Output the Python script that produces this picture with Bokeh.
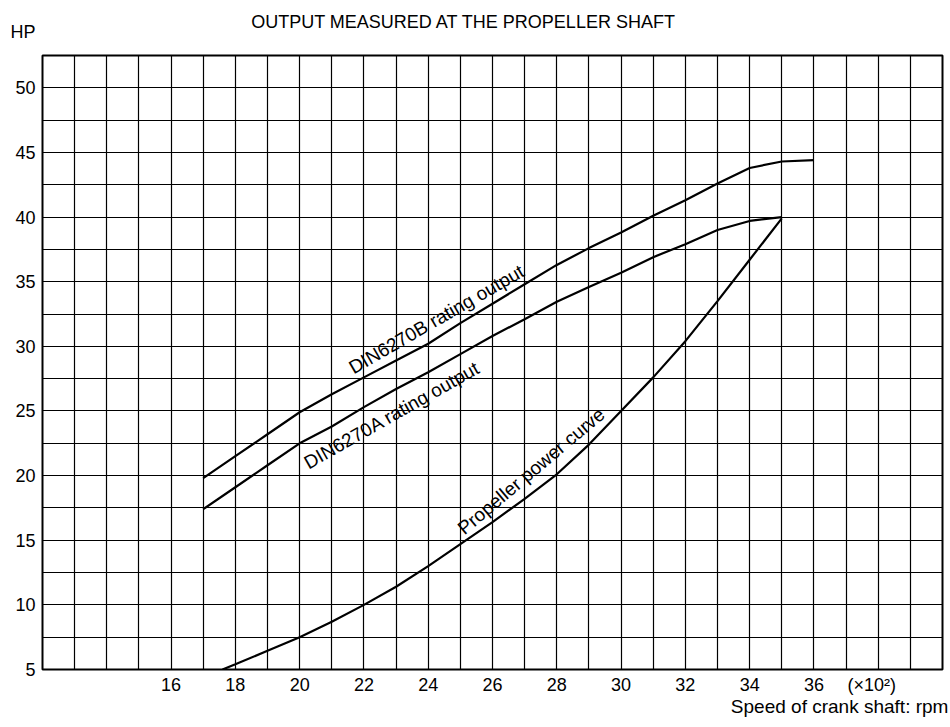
from bokeh.plotting import figure
from bokeh.layouts import column
from bokeh.models import Range1d, FixedTicker, LinearAxis
from bokeh.core.properties import value
from bokeh.embed import file_html
from bokeh.resources import INLINE

FONT = "Liberation Sans"

# Speed of crank shaft (x100 rpm) and output (HP)
din_b_rpm = [17, 18, 19, 20, 21, 22, 23, 24, 25, 26, 27, 28, 29, 30, 31, 32, 33, 34, 35, 36]
din_b_hp = [19.8, 21.5, 23.2, 24.9, 26.3, 27.6, 28.9, 30.2, 31.8, 33.3, 34.8, 36.3, 37.6,
            38.8, 40.1, 41.3, 42.6, 43.8, 44.3, 44.4]

din_a_rpm = [17, 18, 19, 20, 21, 22, 23, 24, 25, 26, 27, 28, 29, 30, 31, 32, 33, 34, 35]
din_a_hp = [17.4, 19.1, 20.8, 22.5, 23.8, 25.3, 26.7, 28.0, 29.4, 30.8, 32.1, 33.45, 34.6,
            35.7, 36.9, 37.9, 39.0, 39.7, 40.0]

prop_rpm = [17.6, 18, 19, 20, 21, 22, 23, 24, 25, 26, 27, 28, 29, 30, 31, 32, 33, 34, 35]
prop_hp = [5.0, 5.4, 6.45, 7.5, 8.7, 10.0, 11.4, 13.0, 14.7, 16.4, 18.2, 20.1, 22.4, 25.0,
           27.6, 30.4, 33.5, 36.7, 39.9]

x_tick_values = [16, 18, 20, 22, 24, 26, 28, 30, 32, 34, 36]
y_tick_values = [5, 10, 15, 20, 25, 30, 35, 40, 45, 50]
x_grid_values = list(range(13, 40))
y_grid_values = [7.5, 10, 12.5, 15, 17.5, 20, 22.5, 25, 27.5, 30, 32.5, 35, 37.5, 40, 42.5,
                 45, 47.5, 50]

x_unit_tick = 37.8
x_unit_text = "(×10²)"
x_label_tick = 36.8
x_label_text = "Speed of crank shaft: rpm"

curve_labels = ["DIN6270B rating output", "DIN6270A rating output", "Propeller power curve"]
label_x = [21.58, 20.18, 25.0]
label_y = [28.25, 20.9, 15.75]
label_angle = [30, 29.5, 40]

title_text = "OUTPUT MEASURED AT THE PROPELLER SHAFT"
y_unit_text = "HP"

W = 948
LEFT, RIGHT = 42, 6
TOP_H = 54


def plain_axis(ax, size="18px", standoff=7):
    ax.axis_line_color = None
    ax.major_tick_line_color = None
    ax.minor_tick_line_color = None
    ax.major_tick_out = 0
    ax.major_tick_in = 0
    ax.major_label_text_font = FONT
    ax.major_label_text_font_size = size
    ax.major_label_text_color = "black"
    ax.major_label_standoff = standoff


# ---- top strip: chart title and the y unit ("HP") ----
top = figure(width=W, height=TOP_H, x_range=Range1d(LEFT, W - RIGHT),
             y_range=Range1d(TOP_H, 0), output_backend="svg", toolbar_location=None,
             x_axis_type=None, y_axis_type=None, min_border_left=LEFT,
             min_border_right=RIGHT, min_border_top=0, min_border_bottom=0)
top.outline_line_color = None
top.background_fill_color = "white"
top.border_fill_color = "white"
hp_axis = LinearAxis(ticker=FixedTicker(ticks=[31.6]), major_label_overrides={31.6: y_unit_text})
plain_axis(hp_axis)
top.add_layout(hp_axis, "left")
top.text(x=[463.5], y=[21.7], text=[title_text], text_font=value(FONT),
         text_font_size=value("18px"), text_color="black", text_align="center",
         text_baseline="alphabetic")

# ---- main chart ----
p = figure(width=W, height=665, x_range=Range1d(12, 40), y_range=Range1d(5, 52.5),
           output_backend="svg", toolbar_location=None,
           min_border_left=LEFT, min_border_right=RIGHT, min_border_top=1,
           min_border_bottom=50)
p.background_fill_color = "white"
p.border_fill_color = "white"
p.outline_line_color = "black"
p.outline_line_width = 2

p.xgrid.ticker = FixedTicker(ticks=x_grid_values)
p.ygrid.ticker = FixedTicker(ticks=y_grid_values)
for g in (p.xgrid, p.ygrid):
    g.grid_line_color = "black"
    g.grid_line_width = 1.2
    g.grid_line_alpha = 1

p.xaxis.ticker = FixedTicker(ticks=x_tick_values + [x_unit_tick])
p.xaxis.major_label_overrides = {x_unit_tick: x_unit_text}
p.yaxis.ticker = FixedTicker(ticks=y_tick_values)
plain_axis(p.xaxis[0], standoff=5)
plain_axis(p.yaxis[0])

speed_axis = LinearAxis(ticker=FixedTicker(ticks=[x_label_tick]),
                        major_label_overrides={x_label_tick: x_label_text})
plain_axis(speed_axis, size="19px", standoff=-2)
p.add_layout(speed_axis, "below")

for xs, ys in ((din_b_rpm, din_b_hp), (din_a_rpm, din_a_hp), (prop_rpm, prop_hp)):
    p.line(xs, ys, line_color="black", line_width=2.2)

p.text(x=label_x, y=label_y, text=curve_labels, angle=label_angle, angle_units="deg",
       text_font=value(FONT), text_font_size=value("19px"), text_color="black",
       text_align="left", text_baseline="alphabetic")

layout = column(top, p, spacing=0)
open("out.html", "w").write(file_html(layout, INLINE))
